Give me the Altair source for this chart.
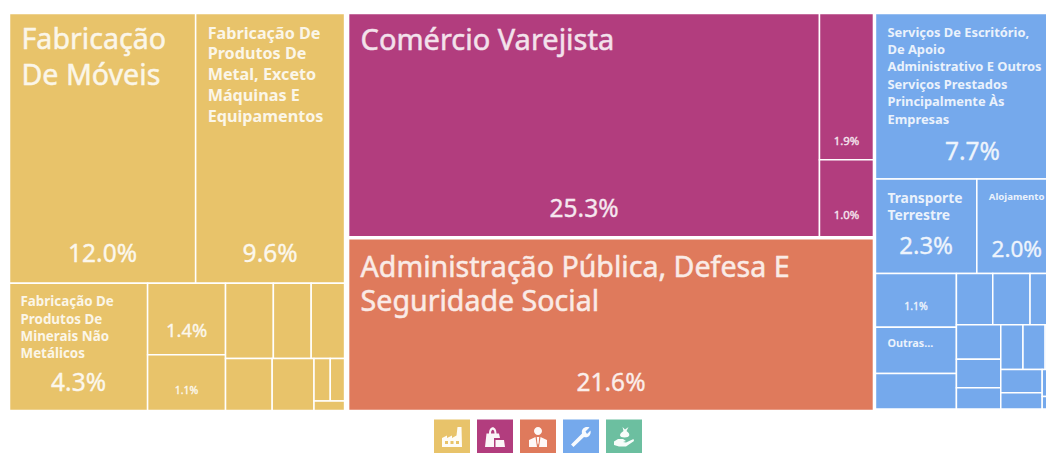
import altair as alt
import pandas as pd

W, H = 1038, 445
FONT = "Noto Sans"

# ---- values (share of total, %), grouped by nesting ----
yellow_top = [12.0, 9.6]
yellow_col = [1.33, 1.04]
yellow_low_first = 4.2
yellow_block_top = [0.86, 0.68, 0.60]
yellow_block_low = [0.58, 0.52]
yellow_tiny_row = [0.165, 0.145]
yellow_tiny_last = 0.07
magenta_main = 25.3
magenta_col = [1.9, 1.0]
orange_main = 21.6
blue_main = 7.7
blue_row = [2.3, 2.1]
blue_left = [1.04, 0.90, 0.69]
blue_right_top = [0.447, 0.459, 0.484]
blue_mid_col = [0.367, 0.302, 0.226]
blue_small_top = [0.2375, 0.2375, 0.259]
blue_pair_a = [0.232, 0.161]
blue_pair_b = [0.177, 0.081]

colors = {"ind": "#E8C36A", "com": "#B23D7E", "adm": "#DF7A5C", "srv": "#75A9EC"}
legend_colors = ["#E8C36A", "#B23D7E", "#DF7A5C", "#75A9EC", "#6CBFA0"]
legend_shapes = [
    "M-1,1 L-1,0.1 L-0.5,-0.15 L-0.5,0.1 L0,-0.15 L0,0.1 L0.45,-0.15 L0.55,-1 L0.95,-1 L1,1 Z "
    "M-0.7,0.4 L-0.7,0.7 L-0.4,0.7 L-0.4,0.4 Z M-0.15,0.4 L-0.15,0.7 L0.15,0.7 L0.15,0.4 Z "
    "M0.4,0.4 L0.4,0.7 L0.7,0.7 L0.7,0.4 Z",
    "M-0.85,-0.35 L-0.6,-0.35 C-0.6,-1.2 0.15,-1.2 0.15,-0.35 L0.4,-0.35 L0.5,0.1 L-0.1,0.1 L-0.1,1 L-1,1 Z "
    "M-0.4,-0.35 L-0.05,-0.35 C-0.05,-0.85 -0.4,-0.85 -0.4,-0.35 Z "
    "M0.05,0.3 L0.9,0.3 L1,1 L0.05,1 Z",
    "M-0.4,-0.6 A0.4,0.4 0 1,1 0.4,-0.6 A0.4,0.4 0 1,1 -0.4,-0.6 Z "
    "M-0.9,1 L-0.9,0.3 L-0.25,0 L-0.1,1 Z M0.9,1 L0.9,0.3 L0.25,0 L0.1,1 Z "
    "M-0.12,0 L0.12,0 L0.07,0.6 L0,0.8 L-0.07,0.6 Z",
    "M-1,0.75 L0.1,-0.35 C0,-0.8 0.4,-1.1 0.85,-0.95 L0.45,-0.55 L0.6,-0.3 L0.95,-0.65 "
    "C1.05,-0.2 0.7,0.15 0.3,0 L-0.75,1 Z",
    "M-1,0.45 L-0.6,0.2 L-0.1,0.2 L0.2,0.4 L-0.1,0.5 L0.2,0.55 L0.95,0.2 L1,0.4 L0.2,0.95 L-0.5,0.95 L-1,0.8 Z "
    "M-0.15,-1 L0.1,-0.75 L0.45,-1 L0.25,-0.6 C0.7,-0.3 0.6,0.05 0.05,0.05 C-0.5,0.05 -0.55,-0.3 -0.05,-0.6 Z",
]

# title text lines and percentage labels for the cells that have them
titles = {
    "moveis": ["Fabricação", "De Móveis"],
    "metal": ["Fabricação De", "Produtos De", "Metal, Exceto", "Máquinas E", "Equipamentos"],
    "minerais": ["Fabricação De", "Produtos De", "Minerais Não", "Metálicos"],
    "varejo": ["Comércio Varejista"],
    "admin": ["Administração Pública, Defesa E", "Seguridade Social"],
    "escrit": ["Serviços De Escritório,", "De Apoio", "Administrativo E Outros",
               "Serviços Prestados", "Principalmente Às", "Empresas"],
    "transp": ["Transporte", "Terrestre"],
    "aloj": ["Alojamento"],
    "outras": ["Outras..."],
}
percents = {
    "moveis": "12.0%", "metal": "9.6%", "minerais": "4.3%", "y14": "1.4%", "y11": "1.1%",
    "varejo": "25.3%", "m19": "1.9%", "m10": "1.0%", "admin": "21.6%", "escrit": "7.7%",
    "transp": "2.3%", "aloj": "2.0%", "b11": "1.1%",
}
# size, weight, x pad, first-line centre from top, line height
title_style = {
    "moveis": (28.6, "normal", 12, 26, 36),
    "metal": (16.2, "bold", 12, 20, 20.8),
    "minerais": (13.4, "bold", 11, 19, 17.3),
    "varejo": (29, "normal", 12, 27, 36),
    "admin": (28.6, "normal", 12, 29, 34),
    "escrit": (12.9, "bold", 12, 19, 17.4),
    "transp": (13.8, "bold", 12, 20, 17),
    "aloj": (9.6, "bold", 12, 18, 12),
    "outras": (10.8, "bold", 12, 17, 12),
}
# size, distance of the text centre from the cell bottom
percent_style = {
    "moveis": (24.5, 28), "metal": (24.5, 28), "minerais": (24.5, 27), "y14": (18.4, 24), "y11": (10.5, 20),
    "varejo": (24.5, 27), "m19": (11.4, 18), "m10": (11.4, 21), "admin": (24.5, 27), "escrit": (24.5, 26),
    "transp": (24, 27), "aloj": (22.5, 24), "b11": (10.5, 20),
}


# ---- nested slice-and-dice layout: children of "h" split width, of "v" split height
def L(value, key=None):
    return {"value": value, "key": key}


def N(orient, *kids):
    return {"orient": orient, "kids": list(kids), "value": sum(k["value"] for k in kids)}


def many(vals):
    return [L(v) for v in vals]


yellow = N("v",
    N("h", L(yellow_top[0], "moveis"), L(yellow_top[1], "metal")),
    N("h",
      L(yellow_low_first, "minerais"),
      N("v", L(yellow_col[0], "y14"), L(yellow_col[1], "y11")),
      N("v",
        N("h", *many(yellow_block_top)),
        N("h", *many(yellow_block_low),
          N("v", N("h", *many(yellow_tiny_row)), L(yellow_tiny_last))))))
middle_top = N("h", L(magenta_main, "varejo"),
               N("v", L(magenta_col[0], "m19"), L(magenta_col[1], "m10")))
middle_low = L(orange_main, "admin")
blue = N("v",
    L(blue_main, "escrit"),
    N("h", L(blue_row[0], "transp"), L(blue_row[1], "aloj")),
    N("h",
      N("v", L(blue_left[0], "b11"), L(blue_left[1], "outras"), L(blue_left[2])),
      N("v",
        N("h", *many(blue_right_top)),
        N("h",
          N("v", *many(blue_mid_col)),
          N("v",
            N("h", *many(blue_small_top)),
            N("h", N("v", *many(blue_pair_a)), N("v", *many(blue_pair_b))))))))

cells = []


def place(node, x0, y0, x1, y1, color):
    if "kids" not in node:
        cells.append(dict(x0=x0, x1=x1, y0=y0, y1=y1, color=color, key=node["key"]))
        return
    total = node["value"]
    pos = 0.0
    for k in node["kids"]:
        a, b = pos / total, (pos + k["value"]) / total
        if node["orient"] == "h":
            place(k, x0 + (x1 - x0) * a, y0, x0 + (x1 - x0) * b, y1, color)
        else:
            place(k, x0, y0 + (y1 - y0) * a, x1, y0 + (y1 - y0) * b, color)
        pos += k["value"]


TOP, BOTTOM = 5.5, 402.5
PX_PER_SHARE = 10.54
x = 1.5
yw = yellow["value"] * PX_PER_SHARE
place(yellow, x, TOP, x + yw, BOTTOM, colors["ind"])
x += yw + 4.0
mw = (middle_top["value"] + middle_low["value"]) * PX_PER_SHARE
split = TOP + (BOTTOM - TOP) * middle_top["value"] / (middle_top["value"] + middle_low["value"])
place(middle_top, x, TOP, x + mw, split - 1.5, colors["com"])
place(middle_low, x, split + 0.5, x + mw, BOTTOM, colors["adm"])
x += mw + 2.0
place(blue, x, TOP, x + blue["value"] * PX_PER_SHARE, BOTTOM - 1.5, colors["srv"])

rects = pd.DataFrame(cells)
by_key = {c["key"]: c for c in cells if c["key"]}

title_rows = []
for key, lines in titles.items():
    c = by_key[key]
    size, weight, pad, first, lh = title_style[key]
    for i, line in enumerate(lines):
        title_rows.append(dict(x=c["x0"] + pad, y=c["y0"] + first + i * lh, t=line, size=size, weight=weight))
title_df = pd.DataFrame(title_rows)

pct_rows = []
for key, txt in percents.items():
    c = by_key[key]
    size, up = percent_style[key]
    # a centred label keeps its whole width inside the drawing
    centre = min((c["x0"] + c["x1"]) / 2, W - 1.3 * size)
    pct_rows.append(dict(x=centre, y=c["y1"] - up, t=txt, size=size))
pct_df = pd.DataFrame(pct_rows)

LEG_X0, LEG_W, LEG_STEP, LEG_TOP = 426, 36, 43, 411.5
legend_df = pd.DataFrame([
    dict(x0=LEG_X0 + i * LEG_STEP, x1=LEG_X0 + i * LEG_STEP + LEG_W, y0=LEG_TOP, y1=H,
         xc=LEG_X0 + i * LEG_STEP + LEG_W / 2, yc=LEG_TOP + 17.5, color=col, shape=legend_shapes[i])
    for i, col in enumerate(legend_colors)
])

xs = alt.Scale(domain=[0, W], nice=False, zero=False)
ys = alt.Scale(domain=[H, 0], nice=False, zero=False)
X = lambda f: alt.X(f"{f}:Q", scale=xs, axis=None)
Y = lambda f: alt.Y(f"{f}:Q", scale=ys, axis=None)

cell_layer = alt.Chart(rects).mark_rect(stroke="white", strokeWidth=1.5, clip=True).encode(
    x=X("x0"), x2="x1:Q", y=Y("y0"), y2="y1:Q", color=alt.Color("color:N", scale=None))


def title_marks(weight):
    extra = {"stroke": "white", "strokeWidth": 0.5} if weight == "normal" else {}
    return alt.Chart(title_df[title_df.weight == weight]).mark_text(
        align="left", baseline="middle", font=FONT, fontWeight=weight, color="white", opacity=0.85, **extra
    ).encode(x=X("x"), y=Y("y"), text="t:N", size=alt.Size("size:Q", scale=None))


pct_layer = alt.Chart(pct_df).mark_text(
    align="center", baseline="middle", font=FONT, fontWeight="normal", color="white", opacity=0.88,
    stroke="white", strokeWidth=0.35
).encode(x=X("x"), y=Y("y"), text="t:N", size=alt.Size("size:Q", scale=None))

leg_rect = alt.Chart(legend_df).mark_rect(clip=True).encode(
    x=X("x0"), x2="x1:Q", y=Y("y0"), y2="y1:Q", color=alt.Color("color:N", scale=None))
leg_icon = alt.Chart(legend_df).mark_point(filled=True, opacity=0.95, size=400, color="white").encode(
    x=X("xc"), y=Y("yc"), shape=alt.Shape("shape:N", scale=None))

chart = alt.layer(cell_layer, title_marks("normal"), title_marks("bold"), pct_layer, leg_rect, leg_icon).properties(
    width=W, height=H, padding=0, autosize=alt.AutoSizeParams(type="none"),
    background="white",
).configure_view(stroke=None)

chart.save("out.html", embed_options={"renderer": "svg", "actions": False})
